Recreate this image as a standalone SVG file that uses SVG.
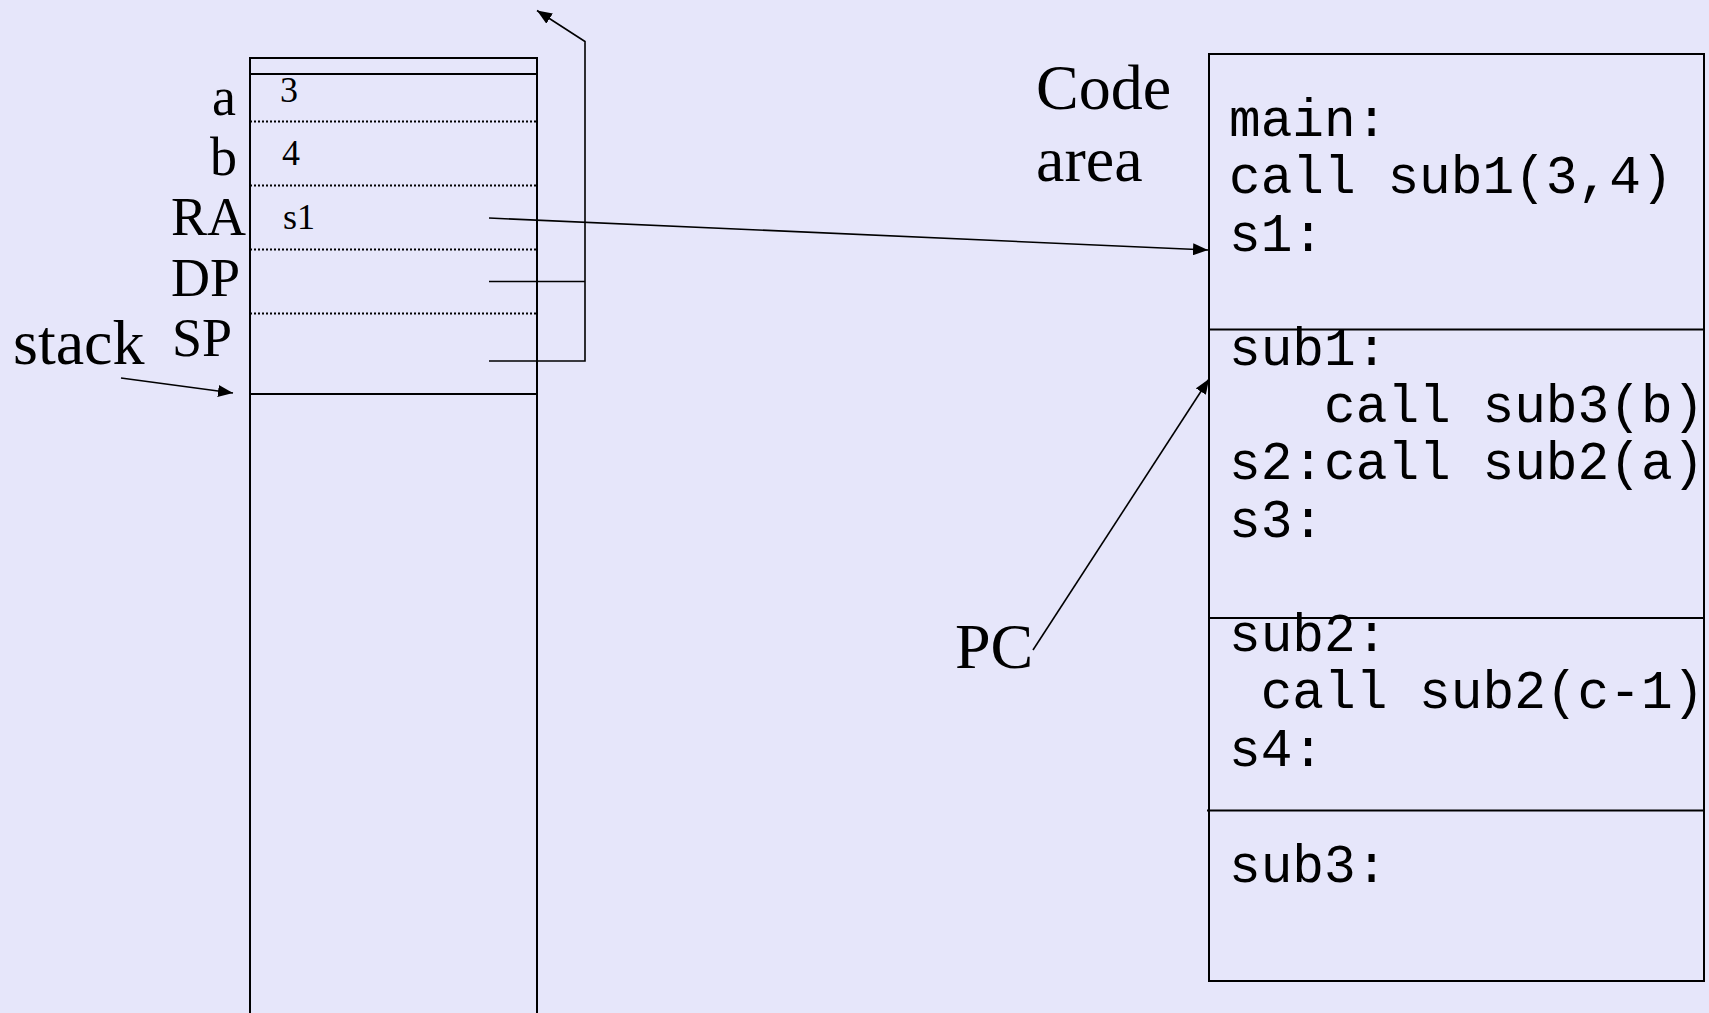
<svg xmlns="http://www.w3.org/2000/svg" width="1709" height="1013" viewBox="0 0 1709 1013">
  <style>
    .bg { fill: #E6E6FA; }
    .box { fill: #E6E6FA; stroke: #000; stroke-width: 2; }
    .rule { stroke: #000; stroke-width: 2; fill: none; }
    .dots { stroke: #000; stroke-width: 2; stroke-dasharray: 2 2; fill: none; }
    .wire { stroke: #000; stroke-width: 1.6; fill: none; }
    .serif { font-family: "Liberation Serif", "Times New Roman", serif; fill: #000; }
    .big { font-size: 64px; }
    .lbl { font-size: 54px; }
    .val { font-size: 36px; }
    .code { font-family: "Liberation Mono", "Courier New", monospace; font-size: 52.8px; fill: #000; }
  </style>
  <defs>
    <marker id="head" markerUnits="userSpaceOnUse" markerWidth="16" markerHeight="12" refX="15" refY="6" orient="auto">
      <path d="M0,0 L15,6 L0,12 z" fill="#000"/>
    </marker>
  </defs>

  <rect class="bg" x="0" y="0" width="1709" height="1013"/>

  <!-- run-time stack -->
  <g id="stack">
    <path class="rule" d="M250,1013 V58 H537 V1013"/>
    <line class="rule" x1="250" y1="74" x2="537" y2="74"/>
    <line class="dots" x1="250" y1="121.5" x2="537" y2="121.5"/>
    <line class="dots" x1="250" y1="185.5" x2="537" y2="185.5"/>
    <line class="dots" x1="250" y1="249.5" x2="537" y2="249.5"/>
    <line class="dots" x1="250" y1="313.5" x2="537" y2="313.5"/>
    <line class="rule" x1="250" y1="394" x2="537" y2="394"/>
    <text class="serif val" x="280" y="102">3</text>
    <text class="serif val" x="282" y="165">4</text>
    <text class="serif val" x="283" y="229">s1</text>
  </g>

  <!-- slot names -->
  <g id="stack-labels">
    <text class="serif lbl" x="212" y="115">a</text>
    <text class="serif lbl" x="210" y="175">b</text>
    <text class="serif lbl" x="171" y="235">RA</text>
    <text class="serif lbl" x="171" y="296">DP</text>
    <text class="serif lbl" x="172" y="356">SP</text>
    <text class="serif big" x="13" y="364">stack</text>
  </g>

  <!-- code area -->
  <g id="code-area">
    <rect class="box" x="1209" y="54" width="495" height="927"/>
    <line class="rule" x1="1209" y1="329.5" x2="1704" y2="329.5"/>
    <line class="rule" x1="1209" y1="618" x2="1704" y2="618"/>
    <line class="rule" x1="1207" y1="810.5" x2="1703" y2="810.5"/>
    <text class="code" x="1229" y="136">main:</text>
    <text class="code" x="1229" y="193">call sub1(3,4)</text>
    <text class="code" x="1229" y="251">s1:</text>
    <text class="code" x="1229" y="365">sub1:</text>
    <text class="code" x="1229" y="422" xml:space="preserve">   call sub3(b)</text>
    <text class="code" x="1229" y="479">s2:call sub2(a)</text>
    <text class="code" x="1229" y="537">s3:</text>
    <text class="code" x="1229" y="651">sub2:</text>
    <text class="code" x="1229" y="708" xml:space="preserve"> call sub2(c-1)</text>
    <text class="code" x="1229" y="766">s4:</text>
    <text class="code" x="1229" y="882">sub3:</text>
  </g>

  <g id="code-title">
    <text class="serif big" x="1036" y="109">Code</text>
    <text class="serif big" x="1036" y="181">area</text>
  </g>

  <g id="pc-label">
    <text class="serif big" x="955" y="668">PC</text>
  </g>

  <!-- pointers -->
  <g id="connectors">
    <line class="wire" x1="489" y1="218" x2="1208" y2="250" marker-end="url(#head)"/>
    <line class="wire" x1="489" y1="281.5" x2="585" y2="281.5"/>
    <path class="wire" d="M489,361 H585 V41.5 L537,10.5" marker-end="url(#head)"/>
    <line class="wire" x1="121" y1="378" x2="233" y2="393" marker-end="url(#head)"/>
    <line class="wire" x1="1033" y1="650" x2="1209" y2="379" marker-end="url(#head)"/>
  </g>
</svg>
